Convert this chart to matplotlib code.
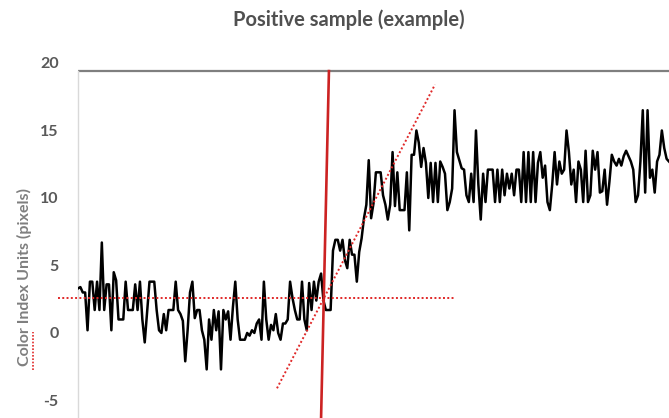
import matplotlib
matplotlib.use("Agg")
import matplotlib.pyplot as plt
from matplotlib.lines import Line2D

# Colour index readings, one per sample
color_index = [
    # baseline
    3.3, 3.4, 3.0, 3.0, 0.2, 3.8, 3.8, 1.7, 3.8, 1.7, 6.7, 1.7, 3.6, 3.6, 0.2, 4.5,
    3.9, 1.0, 1.0, 1.0, 3.8, 1.7, 1.7, 1.7, 3.6, 1.7, 3.8, 1.0, -0.7, 1.5, 3.8, 3.8,
    3.8, 1.7, 0.2, 0.0, 1.4, 0.2, 1.7, 1.7, 1.7, 3.8, 1.7, 1.4, 0.9, -2.1, 0.2, 3.0,
    3.8, 1.1, 1.7, 1.7, 0.2, -0.5, -2.7, 1.0, -0.5, 1.7, 0.2, 1.6, -2.7, 1.7, 1.0, 1.6,
    -0.5, 1.9, 3.8, 1.0, -0.5, -0.5, -0.5, 0.0, -0.2, 0.2, 0.0, 0.7, 1.0, -0.5, 3.8, 1.0,
    -0.5, 0.6, 0.2, 1.4, 0.0, -0.5, 0.7, 0.7, 1.0, 3.8, 2.6, 1.7, 1.0, 1.0,
    3.8, 1.0, 0.2, 3.7, 1.7, 3.8, 2.4, 3.8, 4.4, 2.4, 1.7, 1.7, 1.7,
    # rise
    6.1, 6.9, 6.9, 6.1, 6.9, 5.4, 4.8, 6.9, 5.8, 5.8, 3.8, 6.0, 7.0, 8.5, 9.5, 12.8,
    8.5, 9.6, 11.9, 11.9, 11.9, 10.2, 9.5, 8.4, 9.5, 13.4, 9.4, 11.9, 9.1, 9.1, 9.1, 11.9,
    7.6, 13.2, 13.2, 15.0,
    # plateau
    14.1, 12.3, 13.7, 12.6, 10.0, 12.6, 9.7, 12.6, 9.7, 12.7, 12.3, 11.8, 9.1, 9.7, 10.7, 16.5,
    13.4, 12.8, 12.2, 12.1, 10.2, 9.7, 11.8, 9.7, 15.0, 11.0, 8.4, 11.8, 9.7, 12.1, 12.1, 12.1,
    9.7, 12.1, 9.7, 12.1, 10.2, 11.8, 10.7, 11.8, 10.2, 12.1, 12.1, 9.7, 13.4, 9.7, 13.4, 9.7,
    13.4, 9.7, 12.6,
    13.4, 11.5, 12.4, 9.7, 9.1, 11.0, 13.4, 11.0, 12.7, 11.8, 12.1, 15.0, 13.4, 11.0, 12.1, 9.7,
    12.7, 12.1, 9.7, 13.5, 9.7, 10.2, 13.5, 12.1, 13.4, 10.4, 10.5, 12.1, 9.5, 11.2, 13.2, 12.7,
    12.4, 12.9, 12.4, 13.1, 13.5, 13.1, 12.7, 12.1, 9.7, 10.2, 12.7, 16.5, 10.4, 16.5, 11.5, 12.1,
    10.4, 12.7, 13.2, 15.0, 13.7, 12.9, 12.7,
]
samples = list(range(len(color_index)))

# hand-drawn guide lines (sample index, colour index units)
baseline_x = [-8.4, 158.2]
baseline_y = [2.6, 2.6]
slope_x = [83.5, 149.8]
slope_y = [-4.1, 18.4]
onset_x = [105.3, 102.0]
onset_y = [19.4, -6.3]

y_ticks = [-5, 0, 5, 10, 15, 20]

plt.rcParams["font.family"] = ["Lato", "DejaVu Sans"]
plt.rcParams["axes.unicode_minus"] = False

fig = plt.figure(figsize=(6.69, 4.18), dpi=100)
ax = fig.add_axes([78 / 669, 0.0, 1 - 78 / 669, 0.8493])

ax.plot(samples, color_index, color="black", linewidth=1.8, zorder=3)

ax.plot(baseline_x, baseline_y, color="#e02828", linestyle=(0, (1, 1.2)),
        linewidth=1.4, clip_on=False, zorder=4)
ax.plot(slope_x, slope_y, color="#e02828", linestyle=(0, (1, 1.2)),
        linewidth=1.4, clip_on=False, zorder=4)
ax.plot(onset_x, onset_y, color="#cc2222", linewidth=1.9, clip_on=False, zorder=5)

# frame line at the top of the plot area
ax.axhline(19.4, color="#7f7f7f", linewidth=1.6, zorder=2)

ax.set_xlim(0, len(color_index) - 1)
ax.set_ylim(-6.3, 20)
ax.set_yticks(y_ticks)
ax.set_xticks([])
ax.tick_params(axis="y", length=0, pad=14, labelsize=11.5, labelcolor="#595959")
for lbl in ax.get_yticklabels():
    lbl.set_fontweight("bold")

for side in ["top", "right", "bottom"]:
    ax.spines[side].set_visible(False)
ax.spines["left"].set_color("#d9d9d9")
ax.spines["left"].set_linewidth(1.0)
ax.spines["left"].set_bounds(-6.3, 19.4)

fig.text(0.522, 0.953, "Positive sample (example)", ha="center", va="center",
         fontsize=14.5, fontweight="bold", color="#505050")
fig.text(0.037, 0.337, "Color Index Units (pixels)", ha="center", va="center",
         rotation=90, fontsize=11.5, fontweight="bold", color="#7f7f7f")

# spell-check squiggle under "Color"
fig.add_artist(Line2D([0.049, 0.049], [0.115, 0.205], transform=fig.transFigure,
                      color="#e02828", linestyle=(0, (1, 1)), linewidth=1.2))

fig.savefig("out.png", dpi=100)
